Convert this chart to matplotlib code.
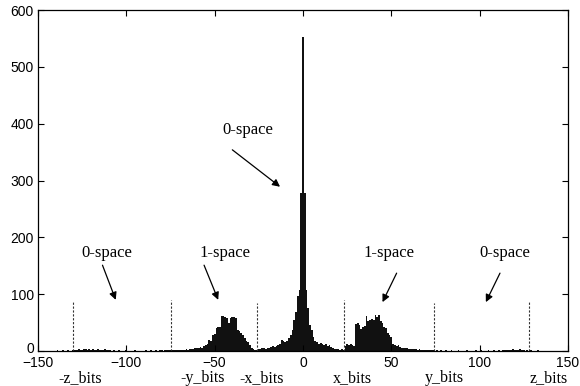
import numpy as np
import matplotlib
matplotlib.use('Agg')
import matplotlib.pyplot as plt
from matplotlib.transforms import ScaledTranslation

# Histogram bins (unit width, centred on integers -140 .. 140)
bin_x = np.arange(-140, 141)

# counts
counts_outer_left = [0, 1, 0, 0, 1, 0, 0, 1, 0, 0,
                     1, 2, 1, 3, 2, 2, 4, 3, 2, 3, 2, 3, 1, 2, 3, 1, 2, 1, 3, 1, 1,
                     1, 0, 1, 0, 0, 1, 0, 0, 0, 1, 0, 0, 0, 0, 1, 0, 0, 0, 0, 0,
                     1, 0, 0, 1, 0, 0, 1, 0, 1, 1, 0, 1, 1, 2]
counts_one_left = [1, 1, 1, 2, 1, 2, 2, 1, 2, 3, 2, 3, 3, 4,
                   5, 5, 6, 7, 6, 8, 10, 13, 19, 17,
                   28, 30, 40, 42, 43, 62, 61, 59, 58, 50,
                   58, 59, 60, 58, 37, 35, 31, 28, 22, 18,
                   16, 10, 5, 3, 2, 1]
counts_center = [4, 3, 5, 5, 4, 6, 5, 7, 8, 7,
                 9, 11, 12, 20, 18, 15, 17, 22, 28, 37,
                 55, 69, 97, 107, 278,
                 552,
                 278, 107, 75, 46, 37, 25, 18, 16, 12, 14, 12, 10,
                 13, 9, 11, 7, 5, 4, 3, 3, 2, 3, 2]
counts_one_right = [8, 13, 10, 12, 11, 9, 48, 50, 46, 38,
                    43, 44, 62, 52, 55, 57, 55, 63, 60, 63,
                    52, 50, 43, 40, 31, 28, 25, 13, 11, 9,
                    10, 7, 6, 6, 5, 6, 4, 4, 3, 4,
                    3, 2, 3, 2, 2, 1, 2, 1, 1, 1]
counts_outer_right = [1, 0, 1, 0, 1, 0, 0, 1, 0, 0, 1, 0, 0, 0, 1, 0, 0, 0, 0, 1,
                      0, 0, 0, 0, 1, 0, 0, 1, 0, 0, 0, 1, 0, 0, 1, 0, 0, 1, 0, 1, 1,
                      1, 2, 1, 2, 3, 2, 1, 2, 3, 1, 1, 0, 1,
                      0, 1, 0, 0, 0, 1, 0, 0, 0, 0, 0, 0, 0]
counts = np.array(counts_outer_left + counts_one_left + counts_center
                  + counts_one_right + counts_outer_right)

# dashed boundaries between the spaces
bound_x = [-130, -75, -26, 23, 74, 128]
bound_h = [88, 90, 85, 90, 85, 88]

# labels under the axis
bit_labels = ['-z_bits', '-y_bits', '-x_bits', 'x_bits', 'y_bits', 'z_bits']
bit_label_x = [-126, -57, -23.5, 27.7, 80, 139]

# annotations: text, text position, arrow start, arrow end
notes = [
    ('0-space', (-31.5, 389), (-40, 354), (-13, 289)),
    ('0-space', (-111, 172), (-113.5, 151), (-106, 90)),
    ('1-space', (-44, 172), (-56, 151), (-48, 90)),
    ('1-space', (48.5, 172), (53, 137), (45, 86)),
    ('0-space', (114, 172), (111.5, 137), (103.5, 86)),
]

plt.rcParams['font.family'] = ['Liberation Sans', 'DejaVu Sans']

fig = plt.figure(figsize=(5.8, 3.86), dpi=100)
ax = fig.add_axes([38 / 580, 35 / 386, 530 / 580, 341 / 386])

ax.bar(bin_x, counts, width=1.0, color='#111111', linewidth=0)
for bx, bh in zip(bound_x, bound_h):
    ax.plot([bx, bx], [0, bh], color='#333333', lw=0.8, linestyle=(0, (2, 1.5)))

for txt, tpos, a0, a1 in notes:
    ax.text(tpos[0], tpos[1], txt, ha='center', va='center',
            family='Liberation Serif', fontsize=12)
    ax.annotate('', xy=a1, xytext=a0,
                arrowprops=dict(arrowstyle='-|>', color='black', lw=0.9,
                                mutation_scale=11, shrinkA=0, shrinkB=0))

trans = ax.get_xaxis_transform()
for lx, lab in zip(bit_label_x, bit_labels):
    ax.text(lx, -0.08, lab, transform=trans, ha='center', va='center',
            family='Liberation Serif', fontsize=11.5, clip_on=False)

ax.set_xlim(-150, 150)
ax.set_ylim(0, 600)
ax.set_xticks([-150, -100, -50, 0, 50, 100, 150])
ax.set_yticks([0, 100, 200, 300, 400, 500, 600])
ax.tick_params(direction='in', top=True, right=True, length=4, width=0.8,
               labelsize=10)
ax.tick_params(axis='x', pad=3.5)
ax.tick_params(axis='y', pad=3)
for sp in ax.spines.values():
    sp.set_linewidth(0.9)

# nudge the "0" label up a little so it clears "-150"
zero_lbl = ax.yaxis.get_major_ticks()[0].label1
zero_lbl.set_transform(zero_lbl.get_transform()
                       + ScaledTranslation(0, 2.5 / 72, fig.dpi_scale_trans))

fig.savefig('out.png', dpi=100)
